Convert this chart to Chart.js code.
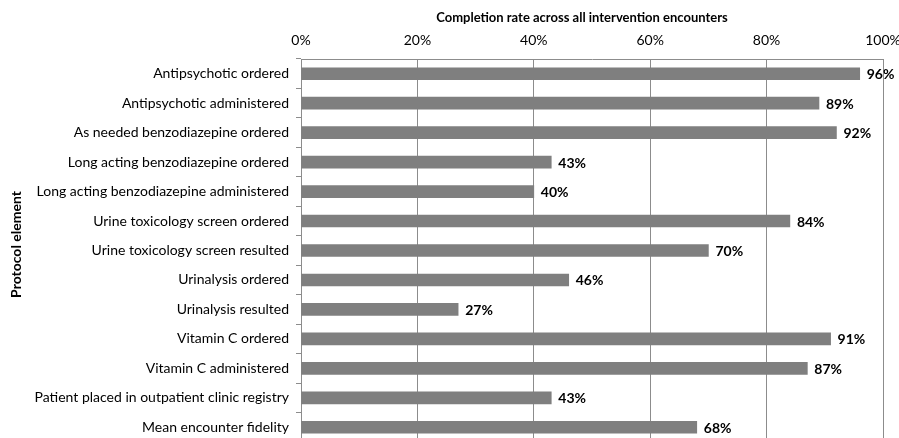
<!DOCTYPE html>
<html><head><meta charset="utf-8">
<script src="https://cdn.jsdelivr.net/npm/chart.js@4/dist/chart.umd.min.js"></script>
<style>html,body{margin:0;padding:0;overflow:hidden;background:#fff;width:899px;height:438px}canvas{display:block}</style>
</head><body><canvas id="c" width="899" height="446"></canvas>
<script>
const categories = ["Antipsychotic ordered","Antipsychotic administered","As needed benzodiazepine ordered","Long acting benzodiazepine ordered","Long acting benzodiazepine administered","Urine toxicology screen ordered","Urine toxicology screen resulted","Urinalysis ordered","Urinalysis resulted","Vitamin C ordered","Vitamin C administered","Patient placed in outpatient clinic registry","Mean encounter fidelity"];
const completion = [96,89,92,43,40,84,70,46,27,91,87,43,68];
const xTicks = [0,20,40,60,80,100];
const xTitle = 'Completion rate across all intervention encounters';
const yTitle = 'Protocol element';

const FONT = "Lato, 'Open Sans', sans-serif";
const PAD = {left: 24, right: 16, top: 6, bottom: 4};

function zeroPad(scale) {
  scale.paddingLeft = 0; scale.paddingRight = 0;
  scale.paddingTop = 0; scale.paddingBottom = 0;
}

const labelPlugin = {
  id: 'barLabels',
  afterDatasetsDraw(chart) {
    const ctx = chart.ctx;
    const meta = chart.getDatasetMeta(0);
    ctx.save();
    ctx.font = "bold 14px " + FONT;
    ctx.fillStyle = "#000";
    ctx.textBaseline = "middle";
    ctx.textAlign = "left";
    meta.data.forEach((bar, i) => {
      ctx.fillText(completion[i] + "%", bar.x + 7, bar.y + 1);
    });
    // axis titles
    const area = chart.chartArea;
    ctx.textAlign = "center";
    ctx.font = "bold 13px " + FONT;
    ctx.fillText(xTitle, (area.left + area.right) / 2 - 10, 18);
    ctx.font = "bold 14px " + FONT;
    ctx.translate(16, (area.top + area.bottom) / 2 - 6);
    ctx.rotate(-Math.PI / 2);
    ctx.fillText(yTitle, 0, 0);
    ctx.restore();
  }
};

new Chart(document.getElementById('c'), {
  type: 'bar',
  data: {
    labels: categories,
    datasets: [{
      data: completion,
      backgroundColor: '#7f7f7f',
      borderWidth: 0,
      barThickness: 12
    }]
  },
  plugins: [labelPlugin],
  options: {
    indexAxis: 'y',
    responsive: false,
    animation: false,
    layout: {padding: PAD},
    plugins: {legend: {display: false}, tooltip: {enabled: false}},
    scales: {
      x: {
        position: 'top',
        min: 0, max: 100,
        afterBuildTicks(scale) { scale.ticks = xTicks.map(v => ({value: v})); },
        afterFit(scale) { scale.height = 59 - PAD.top; zeroPad(scale); },
        ticks: {
          callback: v => v + '%',
          color: '#000',
          font: {family: FONT, size: 14},
          padding: 10
        },
        grid: {color: '#8c8c8c', lineWidth: 1, drawTicks: false, tickLength: 0},
        border: {color: '#8c8c8c', width: 1}
      },
      y: {
        afterFit(scale) { scale.width = 301 - PAD.left; zeroPad(scale); },
        ticks: {
          color: '#000',
          font: {family: FONT, size: 14},
          padding: 7
        },
        grid: {offset: true, drawOnChartArea: false, color: '#8c8c8c', tickLength: 5},
        border: {color: '#8c8c8c', width: 1}
      }
    }
  }
});
</script></body></html>
